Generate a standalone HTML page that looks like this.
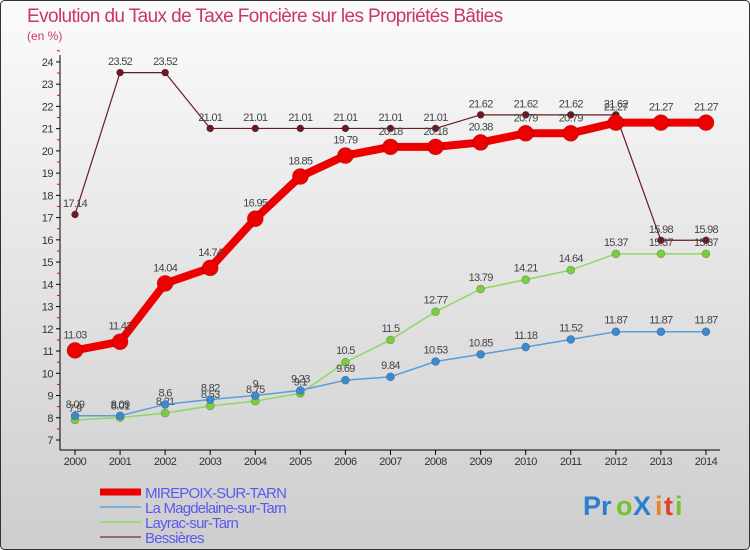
<!DOCTYPE html>
<html><head><meta charset="utf-8"><style>
body{margin:0;width:750px;height:550px;overflow:hidden;font-family:"Liberation Sans",sans-serif}
#c{position:absolute;left:0;top:0}
</style></head><body>
<svg id="c" width="750" height="550" xmlns="http://www.w3.org/2000/svg">
<defs><linearGradient id="bg" x1="0" y1="0" x2="0" y2="1"><stop offset="0" stop-color="#fbfbfb"/><stop offset="1" stop-color="#cdcdcd"/></linearGradient></defs>
<rect x="0.5" y="0.5" width="749" height="549" rx="4" fill="url(#bg)" stroke="#333"/>
<text x="27" y="22" font-size="19" fill="#c8385f" letter-spacing="-0.6">Evolution du Taux de Taxe Foncière sur les Propriétés Bâties</text>
<text x="27" y="40" font-size="12" fill="#c8385f">(en %)</text>
<g id="axes"></g><g id="series"></g><g id="legend"></g>
<g font-size="27" font-weight="bold">
<text x="583" y="515" fill="#2a7fd0">Pr</text><text x="616" y="515" fill="#78c030">o</text><text x="633" y="515" fill="#2a7fd0">X</text><text x="655" y="515" fill="#f08020">i</text><text x="664" y="515" fill="#e04030">t</text><text x="675" y="515" fill="#78c030">i</text>
</g>
</svg>
<script>
const years=[2000,2001,2002,2003,2004,2005,2006,2007,2008,2009,2010,2011,2012,2013,2014];
const yTicks=[7,8,9,10,11,12,13,14,15,16,17,18,19,20,21,22,23,24];
const mirepoix=[11.03,11.42,14.04,14.74,16.95,18.85,19.79,20.18,20.18,20.38,20.79,20.79,21.27,21.27,21.27];
const magdelaine=[8.09,8.09,8.6,8.82,9,9.23,9.69,9.84,10.53,10.85,11.18,11.52,11.87,11.87,11.87];
const layrac=[7.9,8.01,8.21,8.53,8.75,9.1,10.5,11.5,12.77,13.79,14.21,14.64,15.37,15.37,15.37];
const bessieres=[17.14,23.52,23.52,21.01,21.01,21.01,21.01,21.01,21.01,21.62,21.62,21.62,21.62,15.98,15.98];
const names=["MIREPOIX-SUR-TARN","La Magdelaine-sur-Tarn","Layrac-sur-Tarn","Bessières"];
const NS="http://www.w3.org/2000/svg";
const X=i=>75+i*45.07, Y=v=>440-(v-7)*22.24;
function mk(p,t,a){const e=document.createElementNS(NS,t);for(const k in a)e.setAttribute(k,a[k]);p.appendChild(e);return e;}
const ax=document.getElementById('axes');
mk(ax,'line',{x1:60,y1:55,x2:60,y2:450,stroke:'#000'});
mk(ax,'line',{x1:60,y1:450,x2:720,y2:450,stroke:'#000'});
yTicks.forEach(v=>{
 mk(ax,'line',{x1:56,y1:Y(v),x2:60,y2:Y(v),stroke:'#000'});
 mk(ax,'line',{x1:57,y1:Y(v+0.5),x2:60,y2:Y(v+0.5),stroke:'#e00'});
 const t=mk(ax,'text',{x:53,y:Y(v)+4,'font-size':11,fill:'#333','text-anchor':'end','letter-spacing':'-0.5'});t.textContent=v;
 
 
});
years.forEach((y,i)=>{
 mk(ax,'line',{x1:X(i),y1:450,x2:X(i),y2:455,stroke:'#000'});
 const t=mk(ax,'text',{x:X(i),y:465,'font-size':11,fill:'#333','text-anchor':'middle','letter-spacing':'-0.5'});t.textContent=y;
 
 
});
const sg=document.getElementById('series');
const specs=[[bessieres,'#6b1a22',1.2,3.5,'#6b1a22','bessieres'],[layrac,'#8fd860',1.5,4,'#7ccc40','layrac'],[magdelaine,'#5a9ed8',1.5,4,'#3a8ad0','magdelaine'],[mirepoix,'#ee0000',8,8,'#ee0000','mirepoix']];
specs.forEach(([d,c,w,r,fc,n])=>{
 const g=mk(sg,'g',{});
 
 
 mk(g,'polyline',{points:d.map((v,i)=>X(i)+','+Y(v)).join(' '),fill:'none',stroke:c,'stroke-width':w,'stroke-linejoin':'round'});
 d.forEach((v,i)=>{
  const p=mk(g,'circle',{cx:X(i),cy:Y(v),r:r,fill:fc,stroke:'rgba(0,0,0,0.3)','stroke-width':0.6});
  
  
  const t=mk(g,'text',{x:X(i),y:Y(v)-r-4,'font-size':11,fill:'#444','text-anchor':'middle','letter-spacing':'-0.7'});t.textContent=v;
  
  
 });
});
const lg=document.getElementById('legend');
const lc=[['#ee0000',7],['#7aaed8',2],['#a0d880',2],['#9a6a6a',2]];
names.forEach((n,i)=>{
 const y=492+i*15;
 const g=mk(lg,'g',{});
 
 
 mk(g,'line',{x1:100,y1:y,x2:141,y2:y,stroke:lc[i][0],'stroke-width':lc[i][1]});
 const t=mk(g,'text',{x:145,y:y+6,'font-size':15,fill:'#5a5aee','letter-spacing':'-0.8'});t.textContent=n;
});
</script>
</body></html>
